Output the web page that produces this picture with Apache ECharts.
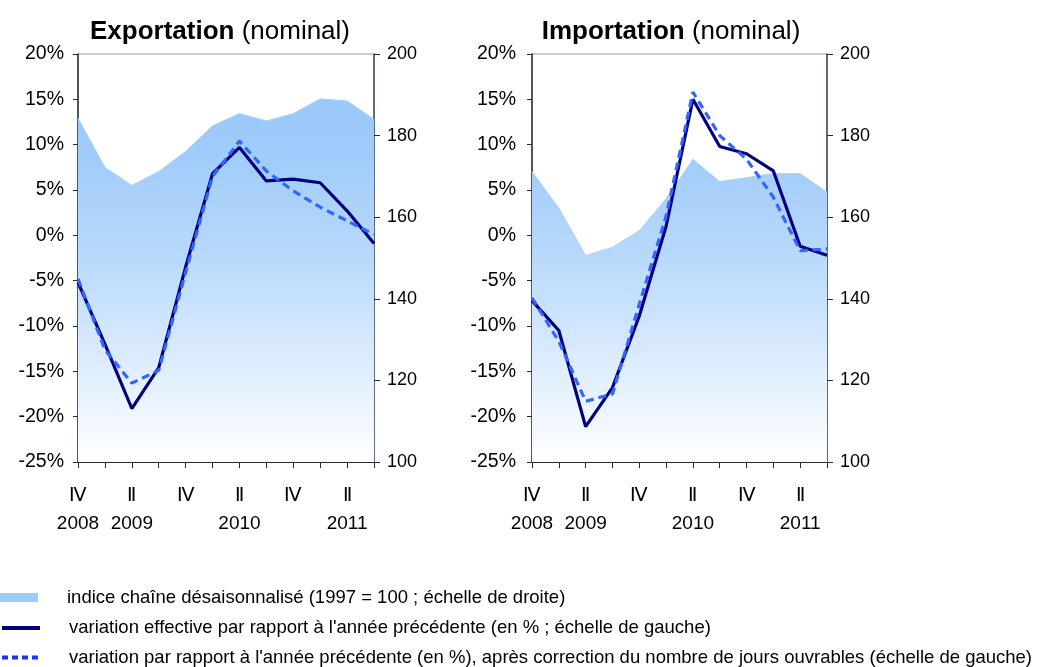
<!DOCTYPE html>
<html>
<head>
<meta charset="utf-8">
<script src="https://cdn.jsdelivr.net/npm/echarts@6/dist/echarts.min.js"></script>
<style>
html,body{margin:0;padding:0;background:#fff;}
#chart{width:1040px;height:667px;}
</style>
</head>
<body>
<div id="chart"></div>
<script>
// Quarters 2008Q4 .. 2011Q3
var quarters = ['2008T4','2009T1','2009T2','2009T3','2009T4','2010T1','2010T2','2010T3','2010T4','2011T1','2011T2','2011T3'];
var quarterLabels = ['Ⅳ','','Ⅱ','','Ⅳ','','Ⅱ','','Ⅳ','','Ⅱ',''];
var yearLabels = ['2008','','2009','','','','2010','','','','2011',''];

// Exportation
var exportIndex = [184.3,172.2,167.8,171.2,176.1,182.4,185.4,183.6,185.4,189.0,188.5,184.0];
var exportVar   = [-5.2,-12.0,-19.1,-14.6,-3.5,6.8,9.7,6.0,6.2,5.8,2.7,-0.9];
var exportVarWd = [-4.8,-12.6,-16.3,-14.9,-4.1,6.5,10.4,7.1,4.9,3.1,1.6,0.1];

// Importation
var importIndex = [171.2,162.2,150.6,152.6,156.7,164.5,174.2,168.7,169.7,170.7,170.7,166.1];
var importVar   = [-7.2,-10.5,-21.1,-16.8,-8.9,1.0,15.0,9.8,9.0,7.1,-1.2,-2.2];
var importVarWd = [-6.9,-11.7,-18.3,-17.5,-7.6,2.1,15.8,11.0,8.4,4.2,-1.7,-1.5];

var nameIndex = 'indice chaîne désaisonnalisé (1997 = 100 ; échelle de droite)';
var nameVar = "variation effective par rapport à l'année précédente (en % ; échelle de gauche)";
var nameVarWd = "variation par rapport à l'année précédente (en %), après correction du nombre de jours ouvrables (échelle de gauche)";

var FONT = '"Liberation Sans", Arial, sans-serif';

function xAxisCfg(gi){
  return {
    type:'category', gridIndex:gi, data:quarters, boundaryGap:false,
    axisLine:{onZero:false, lineStyle:{color:'#2a2a3a',width:1}},
    axisTick:{show:true, interval:0, length:6, lineStyle:{color:'#2a2a3a'}},
    axisLabel:{interval:0, margin:20, color:'#000', fontFamily:FONT, fontSize:19, lineHeight:28,
      formatter:function(v, i){
        var q = quarterLabels[i], y = yearLabels[i];
        if(!q && !y) return '';
        return y ? (q + '\n' + y) : q;
      }},
    splitLine:{show:false}
  };
}
function yLeft(gi, margin){
  return {
    type:'value', gridIndex:gi, position:'left', min:-25, max:20, interval:5,
    axisLine:{show:true, onZero:false, lineStyle:{color:'#2a2a3a',width:1.5}},
    axisTick:{show:true, length:5, lineStyle:{color:'#2a2a3a'}},
    axisLabel:{formatter:'{value}%', margin:margin, color:'#000', fontFamily:FONT, fontSize:19.5},
    splitLine:{show:false}
  };
}
function yRight(gi){
  return {
    type:'value', gridIndex:gi, position:'right', min:100, max:200, interval:20,
    axisLine:{show:true, onZero:false, lineStyle:{color:'#3a4a66',width:1.5}},
    axisTick:{show:true, length:6, lineStyle:{color:'#2a2a3a'}},
    axisLabel:{margin:13, color:'#000', fontFamily:FONT, fontSize:18},
    splitLine:{show:false}
  };
}
var areaGrad = {type:'linear', x:0, y:54, x2:0, y2:462, global:true,
  colorStops:[{offset:0,color:'#93c5f9'},{offset:0.25,color:'#a0ccfa'},{offset:0.5,color:'#b9d9fb'},{offset:0.75,color:'#dcecfd'},{offset:1,color:'#ffffff'}]};

function seriesFor(gi, idx, v, vwd){
  return [
    {name:nameIndex, type:'line', xAxisIndex:gi, yAxisIndex:gi*2+1, data:idx, symbol:'none',
     color:'#99ccff', lineStyle:{width:1, color:'#a8d1fa'}, areaStyle:{color:areaGrad, opacity:1}, z:1},
    {name:nameVar, type:'line', xAxisIndex:gi, yAxisIndex:gi*2, data:v, symbol:'none',
     color:'#000080', lineStyle:{width:3.2, color:'#000080'}, z:3},
    {name:nameVarWd, type:'line', xAxisIndex:gi, yAxisIndex:gi*2, data:vwd, symbol:'none',
     color:'#3366ff', lineStyle:{width:3.2, color:'#3366ff', type:[8,5]}, z:4}
  ];
}

function titleRich(){
  return {rich:{
    b:{fontWeight:'bold',fontSize:26,fontFamily:FONT,color:'#000'},
    n:{fontWeight:'normal',fontSize:26,fontFamily:FONT,color:'#000'}
  }};
}

function legendRow(item, top, lineStyle){
  var l = {
    orient:'vertical', left:0, top:top, padding:0, itemWidth:38, itemHeight:9,
    selectedMode:false,
    textStyle:{fontFamily:FONT, fontSize:18.5, color:'#000', lineHeight:18, padding:[0,0,0,24]},
    data:[item]
  };
  if(lineStyle) l.lineStyle = lineStyle;
  return l;
}

var chart = echarts.init(document.getElementById('chart'), null, {renderer:'canvas'});
chart.setOption({
  backgroundColor:'#fff',
  animation:false,
  textStyle:{fontFamily:FONT},
  title:[
    {text:'{b|Exportation}{n| (nominal)}', left:220, top:19, textAlign:'center', padding:0, textStyle:titleRich()},
    {text:'{b|Importation}{n| (nominal)}', left:671, top:19, textAlign:'center', padding:0, textStyle:titleRich()}
  ],
  grid:[
    {left:78, top:54, width:296, height:408, show:true, borderColor:'#9a9a9a', borderWidth:1, backgroundColor:'transparent', containLabel:false},
    {left:532, top:54, width:295, height:408, show:true, borderColor:'#9a9a9a', borderWidth:1, backgroundColor:'transparent', containLabel:false}
  ],
  xAxis:[xAxisCfg(0), xAxisCfg(1)],
  yAxis:[yLeft(0,14), yRight(0), yLeft(1,16), yRight(1)],
  legend:[
    legendRow({name:nameIndex, icon:'rect', itemStyle:{color:'#99ccff'}}, 588),
    legendRow({name:nameVar, itemStyle:{opacity:0}}, 618.5, {width:4, color:'#000080'}),
    legendRow({name:nameVarWd, itemStyle:{opacity:0}}, 648, {width:4, color:'#1a33ff', type:[6,4]})
  ],
  series:[].concat(seriesFor(0, exportIndex, exportVar, exportVarWd), seriesFor(1, importIndex, importVar, importVarWd))
});
</script>
</body>
</html>
